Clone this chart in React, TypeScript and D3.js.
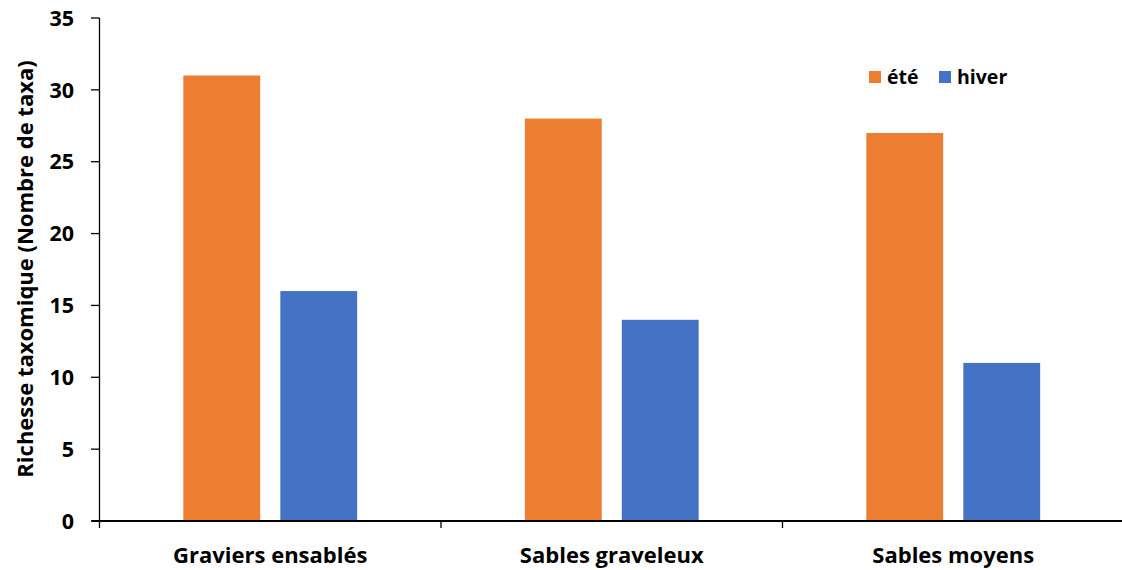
import React from "react";
import * as d3 from "d3";

const categories = ["Graviers ensablés", "Sables graveleux", "Sables moyens"];
const seriesNames = ["été", "hiver"];
const eteValues = [31, 28, 27];
const hiverValues = [16, 14, 11];
const yTicks = [0, 5, 10, 15, 20, 25, 30, 35];
const colors = ["#ED7D31", "#4472C4"];

const W = 1122;
const H = 570;
const FONT = "'Open Sans', 'Liberation Sans', sans-serif";

export default function App() {
  const x0 = 99.5;
  const x1 = 1124;
  const yTop = 18;
  const yBot = 521;
  const y = d3.scaleLinear().domain([0, 35]).range([yBot, yTop]);
  const x = d3.scaleBand<string>().domain(categories).range([x0, x1]).paddingInner(0).paddingOuter(0);
  const bw = x.bandwidth();
  const barW = bw * 0.225;
  const offset = bw * 0.142;
  const series = [eteValues, hiverValues];

  return (
    <svg width={W} height={H} style={{ position: "absolute", left: 0, top: 0, background: "#fff" }}>
      <rect x={0} y={0} width={W} height={H} fill="#fff" />
      {series.map((vals, si) =>
        categories.map((c, ci) => {
          const cx = (x(c) as number) + bw / 2 + (si === 0 ? -offset : offset);
          return (
            <rect
              key={`${si}-${ci}`}
              x={cx - barW / 2}
              y={y(vals[ci])}
              width={barW}
              height={yBot - y(vals[ci])}
              fill={colors[si]}
            />
          );
        })
      )}
      {/* y axis */}
      <line x1={x0} x2={x0} y1={yTop} y2={yBot} stroke="#000" strokeWidth={1.3} />
      {yTicks.map((t) => (
        <g key={t}>
          <line x1={91} x2={x0} y1={y(t)} y2={y(t)} stroke="#000" strokeWidth={1.3} />
          <text
            x={74}
            y={y(t)}
            dy="0.36em"
            textAnchor="end"
            fontFamily={FONT}
            fontWeight="bold"
            fontSize={21.5}
            fill="#000"
          >
            {t}
          </text>
        </g>
      ))}
      {/* x axis */}
      <line x1={x0 - 8} x2={W} y1={yBot} y2={yBot} stroke="#000" strokeWidth={2.2} />
      {[0, 1, 2].map((i) => {
        const xx = x0 + i * bw;
        return <line key={i} x1={xx} x2={xx} y1={yBot} y2={yBot + 7} stroke="#000" strokeWidth={1.3} />;
      })}
      {categories.map((c) => (
        <text
          key={c}
          x={(x(c) as number) + bw / 2}
          y={563}
          textAnchor="middle"
          fontFamily={FONT}
          fontWeight="bold"
          fontSize={22}
          fill="#000"
        >
          {c}
        </text>
      ))}
      {/* y title */}
      <text
        transform={`translate(33,${269}) rotate(-90)`}
        textAnchor="middle"
        fontFamily={FONT}
        fontWeight="bold"
        fontSize={22}
        fill="#000"
      >
        Richesse taxomique (Nombre de taxa)
      </text>
      {/* legend */}
      {seriesNames.map((s, i) => {
        const lx = i === 0 ? 869 : 939;
        return (
          <g key={s}>
            <rect x={lx} y={71} width={12} height={12} fill={colors[i]} />
            <text x={lx + 18} y={84} fontFamily={FONT} fontWeight="bold" fontSize={19.5} fill="#000">
              {s}
            </text>
          </g>
        );
      })}
    </svg>
  );
}
